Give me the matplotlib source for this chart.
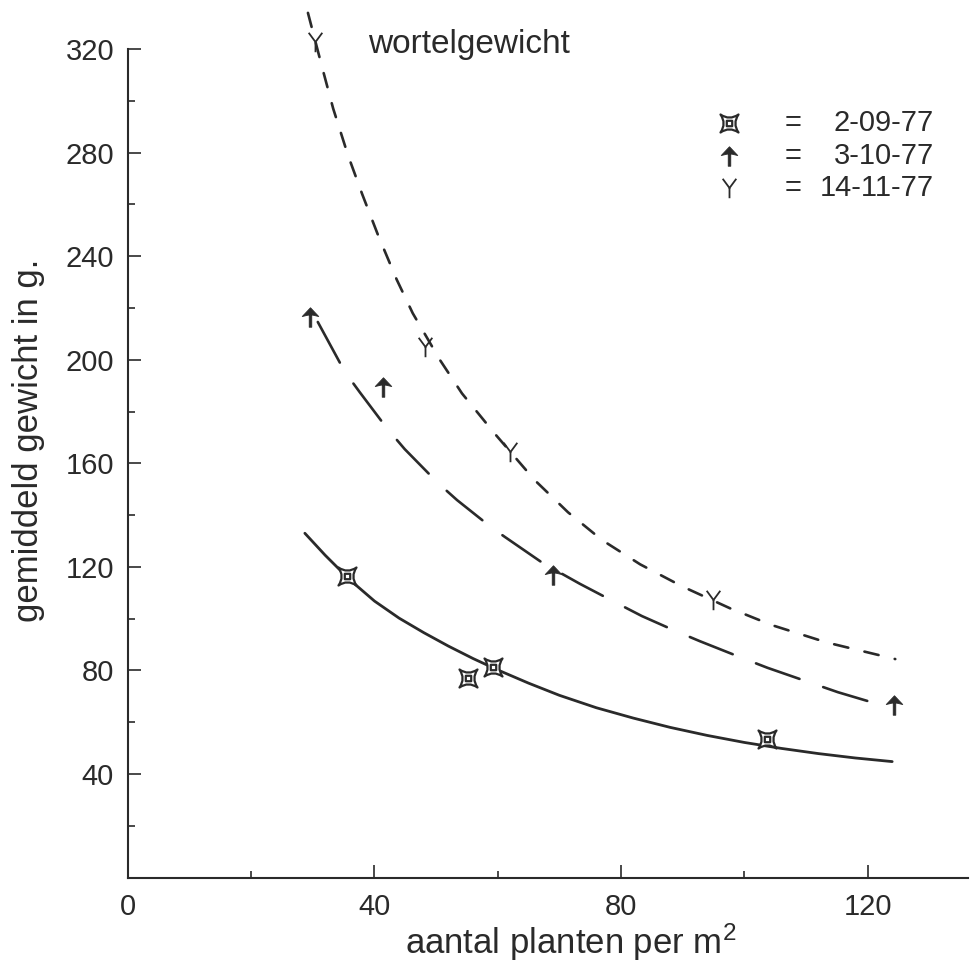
import matplotlib
matplotlib.use("Agg")
import matplotlib.pyplot as plt
from matplotlib.path import Path

plt.rcParams["font.family"] = ["Liberation Sans", "DejaVu Sans"]
plt.rcParams["mathtext.fontset"] = "custom"
plt.rcParams["mathtext.rm"] = "Liberation Sans"
plt.rcParams["mathtext.it"] = "Liberation Sans"

INK = "#2a2a2a"

# measured points per harvest date (plant density per m2, mean root weight in g)
dates = ["2-09-77", "3-10-77", "14-11-77"]

pts1_x = [35.6, 55.2, 59.3, 103.7]
pts1_y = [116.5, 77.0, 81.5, 53.4]

pts2_x = [29.5, 41.4, 69.0, 124.3]
pts2_y = [216.6, 189.6, 116.9, 66.6]

pts3_x = [30.3, 48.2, 62.0, 94.9]
pts3_y = [322.7, 205.0, 164.5, 107.2]

# fitted curves
curve1_x = [28.7, 32, 36, 40, 44, 48, 52, 56, 60, 65, 70, 76, 82, 88, 94,
            100, 106, 112, 118, 124]
curve1_y = [133, 124.5, 115.0, 106.8, 100.2, 94.6, 89.4, 84.6, 80.2, 75.1,
            70.4, 65.6, 61.6, 58.0, 54.9, 52.2, 49.9, 47.9, 46.2, 44.8]

curve2_x = [30.8, 35.2, 37.6, 42.0, 44.9, 50.3, 53.4, 59.1, 61.2, 67.3,
            73.3, 79.0, 83.4, 88.8, 92.8, 100.1, 103.8, 111.8, 115.2, 121.7]
curve2_y = [214.6, 195.3, 187.5, 173.6, 165.5, 152.4, 145.8, 135.0, 131.5,
            121.5, 113.5, 106.4, 101.0, 95.3, 91.3, 84.4, 81.0, 74.4, 71.6,
            67.0]

curve3_x = [29.2, 31.5, 33.3, 35.7, 38.0, 40.6, 43.6, 46.2, 50.6, 54.2,
            59.5, 66.0, 71.4, 76.9, 83.1, 89.9, 97.7, 104.5, 113.4, 124.5]
curve3_y = [334, 313, 297, 279, 264, 248, 231, 218, 200, 187, 171.5, 153.5,
            141.1, 130.4, 121, 112.5, 104.0, 97.5, 90.8, 84.4]

x_major = [0, 40, 80, 120]
x_minor = [20, 60, 100]
y_major = [40, 80, 120, 160, 200, 240, 280, 320]
y_minor = [20, 60, 100, 140, 180, 220, 260, 300]

# ---- custom marker shapes ----
C3, L, M, CL = Path.CURVE3, Path.LINETO, Path.MOVETO, Path.CLOSEPOLY
star_box = Path(
    [(1, 1), (0, 0.3), (-1, 1), (-0.3, 0), (-1, -1), (0, -0.3), (1, -1),
     (0.3, 0), (1, 1), (1, 1),
     (-0.3, -0.3), (0.3, -0.3), (0.3, 0.3), (-0.3, 0.3), (-0.3, -0.3)],
    [M, C3, C3, C3, C3, C3, C3, C3, C3, CL,
     M, L, L, L, CL])
arrow_up = Path(
    [(0, 1), (-0.85, 0.1), (0, 0.3), (0.85, 0.1), (0, 1),
     (-0.13, 0.25), (0.13, 0.25), (0.13, -1), (-0.13, -1), (-0.13, 0.25)],
    [M, L, L, L, CL, M, L, L, L, CL])
y_mark = Path(
    [(-0.7, 1), (0, 0.05), (0.7, 1), (0, 0.05), (0, -1)],
    [M, L, L, M, L])

styles = [
    dict(marker=star_box, markersize=13, mfc="white", mec=INK, mew=1.6),
    dict(marker=arrow_up, markersize=14, mfc=INK, mec=INK, mew=0.6),
    dict(marker=y_mark, markersize=14, mfc="none", mec=INK, mew=1.3),
]

fig = plt.figure(figsize=(9.71, 9.63), dpi=100)
ax = fig.add_axes([0.1318, 0.0887, 0.8651, 0.9087])
ax.set_xlim(0, 136.3)
ax.set_ylim(0, 338)

# curves
ax.plot(curve1_x, curve1_y, color=INK, lw=2.0, solid_capstyle="round", zorder=2)
ax.plot(curve2_x, curve2_y, color=INK, lw=1.9, dashes=(17.5, 9.5),
        dash_capstyle="round", zorder=2)
ax.plot(curve3_x, curve3_y, color=INK, lw=1.9, dashes=(5.5, 6.3),
        dash_capstyle="round", zorder=2)

# measured points
for (px, py), st in zip([(pts1_x, pts1_y), (pts2_x, pts2_y), (pts3_x, pts3_y)],
                        styles):
    ax.plot(px, py, linestyle="none", zorder=3, **st)

# spines and ticks
for s in ["top", "right"]:
    ax.spines[s].set_visible(False)
for s in ["left", "bottom"]:
    ax.spines[s].set_linewidth(1.5)
    ax.spines[s].set_color(INK)
ax.spines["left"].set_bounds(0, 320)

ax.set_xticks(x_major)
ax.set_xticks(x_minor, minor=True)
ax.set_yticks(y_major)
ax.set_yticks(y_minor, minor=True)
ax.set_yticklabels([str(v) for v in y_major])
ax.set_xticklabels([str(v) for v in x_major])
ax.tick_params(which="major", direction="in", length=9.5, width=1.2,
               color=INK, labelsize=21, labelcolor=INK)
ax.tick_params(which="minor", direction="in", length=5, width=1.2, color=INK)
ax.tick_params(axis="y", which="major", pad=10)
ax.tick_params(axis="x", which="major", pad=11)

ax.set_xlabel("aantal planten per m$^{2}$", fontsize=25, color=INK)
ax.xaxis.set_label_coords(0.527, -0.05)
ax.set_ylabel("gemiddeld gewicht in g.", fontsize=25, color=INK, va="center")
ax.yaxis.set_label_coords(-0.119, 0.5)

ax.text(38.9, 321.6, "wortelgewicht", fontsize=24, color=INK,
        ha="left", va="center")

# key
key_y = [291.6, 278.6, 266.4]
for yy, label, st in zip(key_y, dates, styles):
    ax.plot([97.6], [yy], linestyle="none", clip_on=False, **st)
    ax.text(107.9, yy, "=", fontsize=21, color=INK, ha="center", va="center")
    ax.text(130.8, yy, label, fontsize=21, color=INK, ha="right", va="center")

fig.savefig("out.png", dpi=100, facecolor="white")
